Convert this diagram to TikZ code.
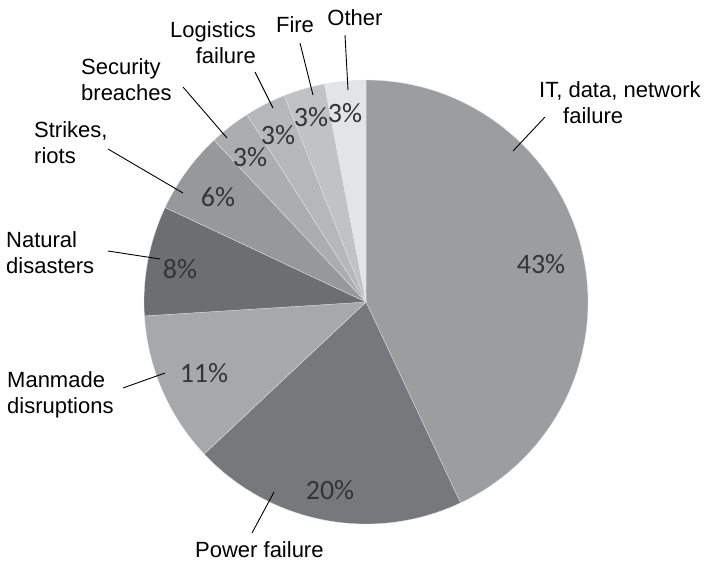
\documentclass[tikz,border=0pt]{standalone}
\usepackage{fontspec}
\setmainfont{Liberation Sans}
\newfontfamily\pctfont{Carlito}
\definecolor{cIT}{HTML}{9C9D9F}
\definecolor{cPower}{HTML}{77787B}
\definecolor{cMan}{HTML}{A7A8AA}
\definecolor{cNat}{HTML}{6D6E70}
\definecolor{cStrike}{HTML}{97989A}
\definecolor{cSec}{HTML}{ACADAF}
\definecolor{cLog}{HTML}{B6B7B9}
\definecolor{cFire}{HTML}{C1C2C4}
\definecolor{cOther}{HTML}{E3E4E6}
\definecolor{pcttext}{HTML}{353535}
\tikzset{
  slice/.style={draw=white!80!gray, line width=0.3pt, line join=round},
  pct/.style={inner sep=0pt, text=pcttext, font=\pctfont\fontsize{28}{30}\selectfont},
  lbl/.style={inner sep=0pt, text=black, font=\fontsize{22}{26}\selectfont},
  leader/.style={draw=black, line width=0.9pt}
}
\newcommand{\pieslice}[3]{%
  \filldraw[slice, fill=#3] (ctr) -- ++(#1:222pt) arc[start angle=#1, end angle=#2, radius=222pt] -- cycle;}
\begin{document}
\begin{tikzpicture}[x=1pt, y=-1pt]
\useasboundingbox (0,0) rectangle (704,563);
\coordinate (ctr) at (366,302);

% pie slices, clockwise from twelve o'clock
\pieslice{90}{-64.8}{cIT}
\pieslice{-64.8}{-136.8}{cPower}
\pieslice{-136.8}{-176.4}{cMan}
\pieslice{-176.4}{-205.2}{cNat}
\pieslice{-205.2}{-226.8}{cStrike}
\pieslice{-226.8}{-237.6}{cSec}
\pieslice{-237.6}{-248.4}{cLog}
\pieslice{-248.4}{-259.2}{cFire}
\pieslice{-259.2}{-270}{cOther}

% percentages
\node[pct] (pIT) at (541,264) {43\%};
\node[pct] (pPower) at (330,490) {20\%};
\node[pct] (pMan) at (204,373) {11\%};
\node[pct] (pNat) at (180,269) {8\%};
\node[pct] (pStrike) at (218,197) {6\%};
\node[pct] (pSec) at (250,157) {3\%};
\node[pct] (pLog) at (278,135) {3\%};
\node[pct] (pFire) at (311,117) {3\%};
\node[pct] (pOther) at (345,113) {3\%};

% category labels (two-line labels are anchored on their last line)
\node[lbl, anchor=base west, align=left] (lIT) at (539,123) {IT, data, network\\\hspace*{24pt}failure};
\node[lbl, anchor=base] (lOther) at (355,25) {Other};
\node[lbl, anchor=base] (lFire) at (295,32) {Fire};
\node[lbl, anchor=base east, align=right] (lLog) at (256,63) {Logistics\\failure};
\node[lbl, anchor=base west, align=left] (lSec) at (81,100) {Security\\breaches};
\node[lbl, anchor=base west, align=left] (lStrike) at (34,163) {Strikes,\\riots};
\node[lbl, anchor=base west, align=left] (lNat) at (6,273) {Natural\\disasters};
\node[lbl, anchor=base west, align=left] (lMan) at (7,413) {Manmade\\disruptions};
\node[lbl, anchor=base west] (lPower) at (195,557) {Power failure};

% leader lines
\coordinate (aIT) at (545,117);   \coordinate (bIT) at (513,151);
\coordinate (aOther) at (345,35); \coordinate (bOther) at (348,90);
\coordinate (aFire) at (300,43);  \coordinate (bFire) at (313,95);
\coordinate (aLog) at (255,72);   \coordinate (bLog) at (273,108);
\coordinate (aSec) at (183,87);   \coordinate (bSec) at (227,138);
\coordinate (aStrike) at (108,149); \coordinate (bStrike) at (183,193);
\coordinate (aNat) at (108,251);  \coordinate (bNat) at (160,259);
\coordinate (aMan) at (123,388);  \coordinate (bMan) at (165,373);
\coordinate (aPower) at (252,533); \coordinate (bPower) at (274,492);
\foreach \k in {IT,Other,Fire,Log,Sec,Strike,Nat,Man,Power}
  \draw[leader] (a\k) -- (b\k);
\end{tikzpicture}
\end{document}
